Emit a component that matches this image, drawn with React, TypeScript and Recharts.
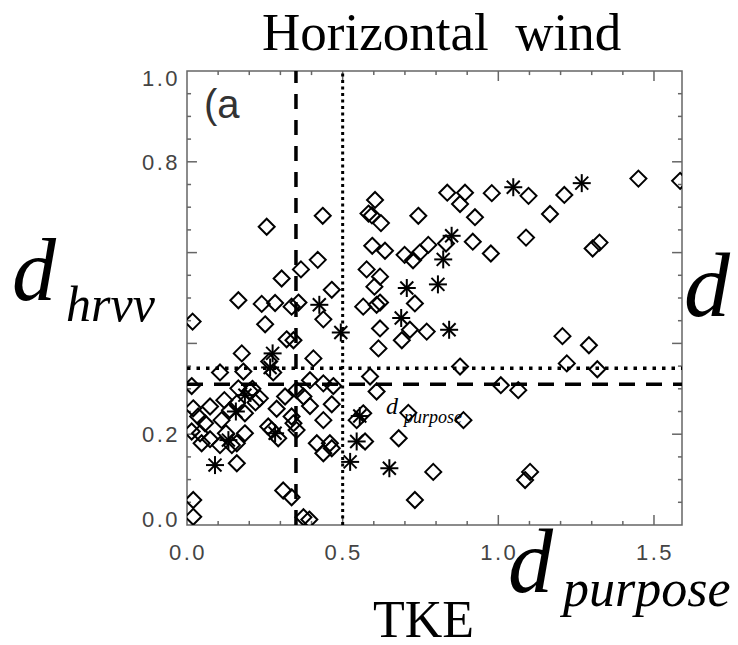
import React from 'react';
import { ScatterChart, Scatter, XAxis, YAxis, ReferenceLine, ReferenceArea } from 'recharts';

// ---- axis setup ----
const X_MAX = 1.59;
const Y_MAX = 1.0;
const xLabelTicks = [0, 0.5, 1.0, 1.5];
const yLabelTicks = [0, 0.2, 0.8, 1.0];
const xMajorTicks = [0.5, 1.0, 1.5];
const xMinorTicks = [0.1, 0.2, 0.3, 0.4, 0.6, 0.7, 0.8, 0.9, 1.1, 1.2, 1.3, 1.4];
const yMajorTicks = [0.2, 0.4, 0.6, 0.8];
const yMinorTicks = [0.05, 0.1, 0.15, 0.25, 0.3, 0.35, 0.45, 0.5, 0.55, 0.65, 0.7, 0.75, 0.85, 0.9, 0.95];

// ---- threshold lines ----
const dashedX = 0.35;
const dottedX = 0.5;
const dashedY = 0.31;
const dottedY = 0.345;

// ---- data: diamonds (open) ----
const diamondPoints: [number, number][] = [
  [0.604, 0.716], [0.256, 0.657], [0.436, 0.681], [0.583, 0.686], [0.594, 0.682],
  [0.623, 0.665], [0.743, 0.681], [0.836, 0.732], [0.595, 0.615], [0.636, 0.604],
  [0.699, 0.595], [0.726, 0.583], [0.748, 0.600], [0.775, 0.617], [0.832, 0.620],
  [0.420, 0.584], [0.366, 0.563], [0.304, 0.543], [0.465, 0.518], [0.577, 0.563],
  [0.620, 0.547], [0.602, 0.525],
  [1.450, 0.763], [1.584, 0.758], [1.212, 0.727], [1.166, 0.685], [1.097, 0.725],
  [0.979, 0.731], [0.893, 0.732], [0.877, 0.707], [0.925, 0.678], [1.089, 0.633],
  [0.918, 0.624], [0.976, 0.598], [1.303, 0.609], [1.325, 0.622],
  [0.165, 0.495], [0.240, 0.487], [0.283, 0.489], [0.336, 0.481], [0.358, 0.490],
  [0.438, 0.453], [0.018, 0.448], [0.251, 0.442], [0.320, 0.409], [0.342, 0.407],
  [0.176, 0.378], [0.264, 0.360], [0.406, 0.367], [0.277, 0.336], [0.106, 0.336],
  [0.181, 0.338],
  [0.566, 0.481], [0.609, 0.485], [0.620, 0.490], [0.732, 0.488], [0.620, 0.433],
  [0.690, 0.407], [0.716, 0.430], [0.770, 0.426], [0.615, 0.389], [0.588, 0.327],
  [0.609, 0.294],
  [1.206, 0.416], [1.291, 0.396], [0.877, 0.349], [1.220, 0.356], [1.318, 0.343],
  [1.008, 0.308], [1.064, 0.297], [0.711, 0.247], [0.888, 0.231], [0.680, 0.191],
  [0.791, 0.117], [1.102, 0.117], [1.086, 0.099], [0.732, 0.055],
  [0.015, 0.306], [0.165, 0.301], [0.202, 0.295], [0.234, 0.279], [0.352, 0.297],
  [0.395, 0.319], [0.438, 0.312], [0.470, 0.306], [0.374, 0.283], [0.315, 0.283],
  [0.395, 0.262], [0.465, 0.266], [0.288, 0.256], [0.336, 0.239], [0.438, 0.231],
  [0.020, 0.257], [0.074, 0.261], [0.036, 0.239], [0.058, 0.224], [0.111, 0.231],
  [0.138, 0.253], [0.160, 0.268], [0.186, 0.246], [0.015, 0.206], [0.042, 0.202],
  [0.047, 0.180], [0.074, 0.189], [0.106, 0.176], [0.125, 0.202], [0.144, 0.176],
  [0.160, 0.180], [0.186, 0.202], [0.261, 0.217], [0.293, 0.191], [0.272, 0.209],
  [0.352, 0.209], [0.342, 0.224], [0.417, 0.180], [0.438, 0.158], [0.459, 0.180],
  [0.465, 0.169], [0.572, 0.184], [0.545, 0.231], [0.566, 0.246], [0.210, 0.300],
  [0.220, 0.270], [0.120, 0.275],
  [0.160, 0.136], [0.309, 0.076], [0.336, 0.061], [0.020, 0.055], [0.020, 0.018],
  [0.374, 0.017], [0.393, 0.012],
];

// ---- data: asterisks ----
const asteriskPoints: [number, number][] = [
  [0.823, 0.585], [0.706, 0.522], [0.806, 0.530], [1.268, 0.753], [1.048, 0.744],
  [0.850, 0.637], [0.425, 0.485], [0.494, 0.424], [0.275, 0.378], [0.267, 0.347],
  [0.186, 0.286], [0.157, 0.250], [0.133, 0.187], [0.283, 0.202], [0.545, 0.184],
  [0.555, 0.240], [0.524, 0.139], [0.090, 0.132], [0.650, 0.125], [0.688, 0.456],
  [0.842, 0.430],
];

const diamondData = diamondPoints.map(([x, y]) => ({ x, y }));
const asteriskData = asteriskPoints.map(([x, y]) => ({ x, y }));

// tick mark lengths in data units
const X_TICK_MAJOR = 0.022;
const X_TICK_MINOR = 0.009;
const Y_TICK_MAJOR = 0.032;
const Y_TICK_MINOR = 0.013;

const AXIS_COLOR = '#666';
const LABEL_FONT = '"Liberation Sans", Arial, sans-serif';
const SERIF = '"Liberation Serif", "Times New Roman", serif';

const DiamondShape = (props: any) => {
  const { cx, cy } = props;
  if (cx == null || cy == null) return null;
  const r = 8;
  return (
    <path
      d={`M${cx},${cy - r}L${cx + r},${cy}L${cx},${cy + r}L${cx - r},${cy}Z`}
      fill="none"
      stroke="#000"
      strokeWidth={2}
    />
  );
};

const AsteriskShape = (props: any) => {
  const { cx, cy } = props;
  if (cx == null || cy == null) return null;
  const r = 9;
  const d = r * 0.72;
  return (
    <g stroke="#000" strokeWidth={2}>
      <line x1={cx} y1={cy - r} x2={cx} y2={cy + r} />
      <line x1={cx - r} y1={cy} x2={cx + r} y2={cy} />
      <line x1={cx - d} y1={cy - d} x2={cx + d} y2={cy + d} />
      <line x1={cx - d} y1={cy + d} x2={cx + d} y2={cy - d} />
    </g>
  );
};

const XTick = (props: any) => {
  const { x, y, payload } = props;
  return (
    <text x={x + 1} y={y} dy="0.71em" textAnchor="middle" fontFamily={LABEL_FONT}
      fontSize={22} letterSpacing={2.5} fill="#444">
      {Number(payload.value).toFixed(1)}
    </text>
  );
};

const YTick = (props: any) => {
  const { x, y, payload } = props;
  const v = Number(payload.value);
  const nudge = v === 1 ? 7 : v === 0 ? -6 : 0;
  return (
    <text x={x} y={y + nudge} dy="0.355em" textAnchor="end" fontFamily={LABEL_FONT}
      fontSize={22} letterSpacing={2.5} fill="#444">
      {v.toFixed(1)}
    </text>
  );
};

export default function App() {
  const tickLines: React.ReactNode[] = [];
  xMajorTicks.concat(xMinorTicks).forEach((t, i) => {
    const len = xMajorTicks.includes(t) ? X_TICK_MAJOR : X_TICK_MINOR;
    tickLines.push(
      <ReferenceLine key={`xb${i}`} segment={[{ x: t, y: 0 }, { x: t, y: len }]}
        stroke={AXIS_COLOR} strokeWidth={1.5} ifOverflow="visible" />,
      <ReferenceLine key={`xt${i}`} segment={[{ x: t, y: Y_MAX }, { x: t, y: Y_MAX - len }]}
        stroke={AXIS_COLOR} strokeWidth={1.5} ifOverflow="visible" />
    );
  });
  yMajorTicks.concat(yMinorTicks).forEach((t, i) => {
    const len = yMajorTicks.includes(t) ? Y_TICK_MAJOR : Y_TICK_MINOR;
    tickLines.push(
      <ReferenceLine key={`yl${i}`} segment={[{ x: 0, y: t }, { x: len, y: t }]}
        stroke={AXIS_COLOR} strokeWidth={1.5} ifOverflow="visible" />,
      <ReferenceLine key={`yr${i}`} segment={[{ x: X_MAX, y: t }, { x: X_MAX - len, y: t }]}
        stroke={AXIS_COLOR} strokeWidth={1.5} ifOverflow="visible" />
    );
  });

  return (
    <div style={{ position: 'absolute', left: 0, top: 0, width: 738, height: 645, background: '#fff' }}>
      <ScatterChart width={738} height={645} margin={{ top: 71, right: 56, bottom: 80, left: 127 }}>
        <XAxis type="number" dataKey="x" domain={[0, X_MAX]} ticks={xLabelTicks}
          allowDataOverflow height={40} axisLine={false} tickLine={false}
          tickSize={0} tickMargin={19} tick={<XTick />} interval={0} />
        <YAxis type="number" dataKey="y" domain={[0, Y_MAX]} ticks={yLabelTicks}
          allowDataOverflow width={60} axisLine={false} tickLine={false}
          tickSize={0} tickMargin={7} tick={<YTick />} interval={0} />
        {tickLines}
        <Scatter data={diamondData} shape={<DiamondShape />} isAnimationActive={false} />
        <Scatter data={asteriskData} shape={<AsteriskShape />} isAnimationActive={false} />
        <ReferenceLine x={dashedX} stroke="#000" strokeWidth={3.5} strokeDasharray="15 11" />
        <ReferenceLine x={dottedX} stroke="#000" strokeWidth={3} strokeDasharray="3 3.5" />
        <ReferenceLine y={dashedY} stroke="#000" strokeWidth={3.5} strokeDasharray="16 11" />
        <ReferenceLine y={dottedY} stroke="#000" strokeWidth={3.5} strokeDasharray="3.5 6" />
        <ReferenceArea x1={0} x2={X_MAX} y1={0} y2={Y_MAX} fill="none" fillOpacity={0}
          stroke={AXIS_COLOR} strokeWidth={1.5} ifOverflow="visible" />
      </ScatterChart>
      <svg width={738} height={645} style={{ position: 'absolute', left: 0, top: 0, pointerEvents: 'none' }}>
        <text x={262} y={50} fontFamily={SERIF} fontSize={53} fill="#000"
          style={{ whiteSpace: 'pre' }}>Horizontal  wind</text>
        <text x={204} y={118} fontFamily={LABEL_FONT} fontSize={40} fill="#333">(a</text>
        <text x={12} y={300} fontFamily={SERIF} fontStyle="italic" fontSize={88} fill="#000">d</text>
        <text x={66} y={321} fontFamily={SERIF} fontStyle="italic" fontSize={50} fill="#000">hrvv</text>
        <text x={684} y={316} fontFamily={SERIF} fontStyle="italic" fontSize={92} fill="#000">d</text>
        <text x={508} y={592} fontFamily={SERIF} fontStyle="italic" fontSize={90} fill="#000">d</text>
        <text x={563} y={606} fontFamily={SERIF} fontStyle="italic" fontSize={52} fill="#000">purpose</text>
        <text x={373} y={637} fontFamily={SERIF} fontSize={52} fill="#000">TKE</text>
        <text x={386} y={414} fontFamily={SERIF} fontStyle="italic" fontSize={24} fill="#000">d</text>
        <text x={404} y={423} fontFamily={SERIF} fontStyle="italic" fontSize={18} fill="#000">purpose</text>
      </svg>
    </div>
  );
}
